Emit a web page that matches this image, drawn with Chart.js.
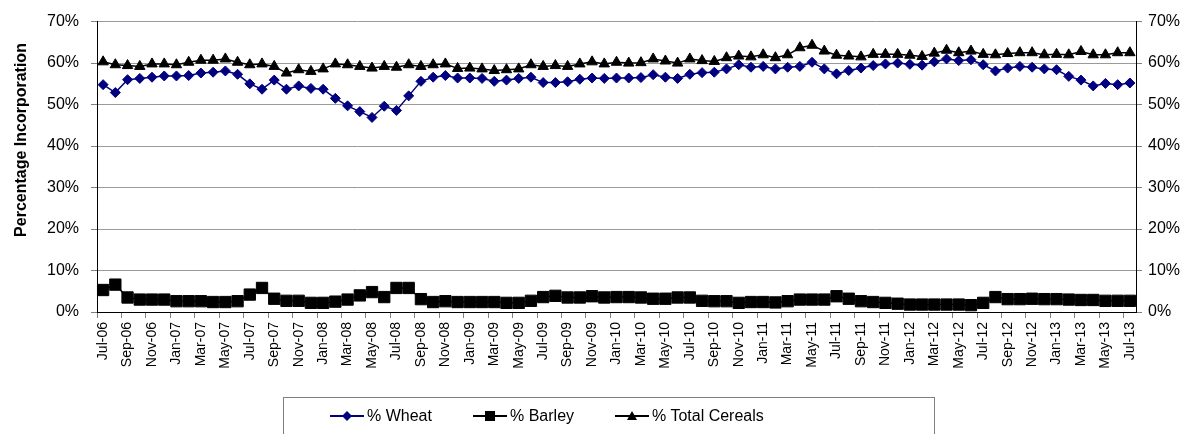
<!DOCTYPE html>
<html>
<head>
<meta charset="utf-8">
<script src="https://cdn.jsdelivr.net/npm/chart.js@4.4.0/dist/chart.umd.min.js"></script>
<style>
html, body { margin: 0; padding: 0; background: #fff; }
#wrap { position: relative; width: 1186px; height: 434px; overflow: hidden; }
#legend { position: absolute; left: 283px; top: 397px; width: 652px; height: 50px; border: 1px solid #808080; box-sizing: border-box; font-family: "Liberation Sans", Arial, sans-serif; font-size: 16px; color: #000; }
.item { position: absolute; top: 9px; display: flex; align-items: center; white-space: nowrap; }
.item svg { margin-right: 3px; }
</style>
</head>
<body>
<div id="wrap">
  <canvas id="chart" width="1186" height="434"></canvas>
  <div id="legend">
    <div class="item" style="left:46px"><svg width="34" height="14"><line x1="0" y1="7" x2="34" y2="7" stroke="#000080" stroke-width="2"/><polygon points="17,2 22,7 17,12 12,7" fill="#000080"/></svg>% Wheat</div>
    <div class="item" style="left:189px"><svg width="34" height="14"><line x1="0" y1="7" x2="34" y2="7" stroke="#000" stroke-width="2"/><rect x="12" y="2" width="10" height="10" fill="#000"/></svg>% Barley</div>
    <div class="item" style="left:331px"><svg width="34" height="14"><line x1="0" y1="7" x2="34" y2="7" stroke="#000" stroke-width="2"/><polygon points="17,2 22,11 12,11" fill="#000"/></svg>% Total Cereals</div>
  </div>
</div>
<script>
const months = [
  'Jul-06','Aug-06','Sep-06','Oct-06','Nov-06','Dec-06','Jan-07','Feb-07','Mar-07','Apr-07','May-07','Jun-07',
  'Jul-07','Aug-07','Sep-07','Oct-07','Nov-07','Dec-07','Jan-08','Feb-08','Mar-08','Apr-08','May-08','Jun-08',
  'Jul-08','Aug-08','Sep-08','Oct-08','Nov-08','Dec-08','Jan-09','Feb-09','Mar-09','Apr-09','May-09','Jun-09',
  'Jul-09','Aug-09','Sep-09','Oct-09','Nov-09','Dec-09','Jan-10','Feb-10','Mar-10','Apr-10','May-10','Jun-10',
  'Jul-10','Aug-10','Sep-10','Oct-10','Nov-10','Dec-10','Jan-11','Feb-11','Mar-11','Apr-11','May-11','Jun-11',
  'Jul-11','Aug-11','Sep-11','Oct-11','Nov-11','Dec-11','Jan-12','Feb-12','Mar-12','Apr-12','May-12','Jun-12',
  'Jul-12','Aug-12','Sep-12','Oct-12','Nov-12','Dec-12','Jan-13','Feb-13','Mar-13','Apr-13','May-13','Jun-13',
  'Jul-13'
];

const wheat = [
  54.8, 52.9, 56.0, 56.3, 56.6, 56.9, 56.9, 57.0, 57.6, 57.8, 58.1, 57.3,
  55.0, 53.7, 55.9, 53.7, 54.5, 53.9, 53.7, 51.5, 49.7, 48.3, 46.9, 49.6,
  48.6, 52.1, 55.6, 56.6, 57.0, 56.4, 56.4, 56.3, 55.6, 55.9, 56.3, 56.6,
  55.3, 55.3, 55.5, 56.1, 56.4, 56.3, 56.4, 56.4, 56.5, 57.2, 56.6, 56.3,
  57.3, 57.7, 57.8, 58.6, 59.6, 59.0, 59.2, 58.6, 59.0, 59.2, 60.2, 58.6,
  57.4, 58.2, 58.8, 59.4, 59.8, 60.0, 59.7, 59.5, 60.3, 61.0, 60.6, 60.8,
  59.6, 58.1, 58.8, 59.2, 59.0, 58.6, 58.4, 56.8, 55.9, 54.5, 55.1, 54.8,
  55.2
];

const barley = [
  5.3, 6.6, 3.5, 3.0, 3.0, 3.0, 2.6, 2.6, 2.6, 2.4, 2.4, 2.6,
  4.2, 5.8, 3.2, 2.7, 2.7, 2.2, 2.2, 2.5, 3.0, 4.0, 4.8, 3.6,
  5.8, 5.8, 3.1, 2.4, 2.6, 2.4, 2.4, 2.4, 2.4, 2.2, 2.2, 2.7,
  3.6, 3.9, 3.5, 3.5, 3.8, 3.5, 3.6, 3.6, 3.5, 3.2, 3.2, 3.5,
  3.5, 2.7, 2.6, 2.6, 2.2, 2.4, 2.4, 2.3, 2.6, 3.0, 3.0, 3.0,
  3.8, 3.2, 2.6, 2.4, 2.2, 2.0, 1.8, 1.8, 1.8, 1.8, 1.8, 1.65,
  2.2, 3.6, 3.1, 3.1, 3.2, 3.1, 3.1, 3.0, 2.9, 2.9, 2.7, 2.7,
  2.7
];

const totalCereals = [
  60.3, 59.6, 59.4, 59.2, 59.8, 59.8, 59.6, 60.2, 60.7, 60.7, 61.0, 60.2,
  59.6, 59.8, 59.2, 57.6, 58.4, 58.0, 58.6, 59.8, 59.6, 59.2, 58.8, 59.2,
  59.0, 59.6, 59.2, 59.6, 59.8, 58.7, 58.8, 58.6, 58.2, 58.4, 58.6, 59.6,
  59.2, 59.4, 59.2, 59.8, 60.3, 59.8, 60.2, 60.0, 60.1, 61.0, 60.5, 60.0,
  61.0, 60.6, 60.4, 61.3, 61.7, 61.5, 62.0, 61.3, 62.0, 63.7, 64.3, 62.9,
  61.9, 61.7, 61.5, 62.1, 62.1, 62.1, 61.9, 61.6, 62.4, 63.1, 62.5, 62.9,
  62.1, 62.0, 62.3, 62.5, 62.5, 62.0, 62.1, 62.0, 62.8, 62.0, 62.0, 62.5,
  62.5
];

const yTicks = [0, 10, 20, 30, 40, 50, 60, 70];

const FONT = '"Liberation Sans", Arial, sans-serif';

// axis title drawn by hand so it can sit a bit above the centre like the original
const yTitle = {
    id: 'yTitle',
    afterDraw(chart) {
        const c = chart.ctx;
        c.save();
        c.translate(22, 140);
        c.rotate(-Math.PI / 2);
        c.font = 'bold 16px ' + FONT;
        c.textAlign = 'center';
        c.textBaseline = 'middle';
        c.fillStyle = '#000';
        c.fillText('Percentage Incorporation', 0, 0);
        c.restore();
    }
};

function pctAxis(position, pad, width, onArea) {
    return {
        position: position,
        min: 0,
        max: 70,
        afterBuildTicks: s => { s.ticks = yTicks.map(v => ({ value: v })); },
        afterFit: s => { s.width = width; },
        border: { color: '#000', width: 1 },
        grid: {
            drawOnChartArea: onArea,
            color: '#9a9a9a',
            tickColor: '#808080',
            tickLength: 6
        },
        ticks: {
            padding: pad,
            color: '#000',
            font: { family: FONT, size: 16 },
            callback: v => v + '%'
        }
    };
}

new Chart(document.getElementById('chart').getContext('2d'), {
    type: 'line',
    data: {
        labels: months,
        datasets: [
            {
                label: '% Total Cereals',
                data: totalCereals,
                borderColor: '#000',
                backgroundColor: '#000',
                borderWidth: 1.5,
                pointStyle: 'triangle',
                pointRadius: 6,
                pointBorderWidth: 1,
                yAxisID: 'y'
            },
            {
                label: '% Wheat',
                data: wheat,
                borderColor: '#000080',
                backgroundColor: '#000080',
                borderWidth: 1.5,
                pointStyle: 'rectRot',
                pointRadius: 5,
                pointBorderWidth: 1,
                yAxisID: 'y'
            },
            {
                label: '% Barley',
                data: barley,
                borderColor: '#000',
                backgroundColor: '#000',
                borderWidth: 1.5,
                pointStyle: 'rect',
                pointRadius: 8,
                pointBorderWidth: 1,
                yAxisID: 'y'
            }
        ]
    },
    options: {
        responsive: false,
        animation: false,
        layout: { padding: { top: 15, left: 0, right: 0, bottom: 0 } },
        plugins: {
            legend: { display: false },
            tooltip: { enabled: false }
        },
        scales: {
            x: {
                type: 'category',
                offset: true,
                afterFit: s => { s.height = 122; },
                border: { color: '#000', width: 1 },
                grid: {
                    offset: true,
                    drawOnChartArea: false,
                    tickLength: 6,
                    tickColor: ctx => (ctx.index % 2 === 0 ? '#808080' : 'rgba(0,0,0,0)')
                },
                ticks: {
                    autoSkip: false,
                    minRotation: 90,
                    maxRotation: 90,
                    padding: 4,
                    color: '#000',
                    font: { family: FONT, size: 14 },
                    callback: (v, i) => (i % 2 === 0 ? months[i] : '')
                }
            },
            y: pctAxis('left', 12, 97, true),
            y2: pctAxis('right', 6, 50, false)
        }
    },
    plugins: [yTitle]
});
</script>
</body>
</html>
